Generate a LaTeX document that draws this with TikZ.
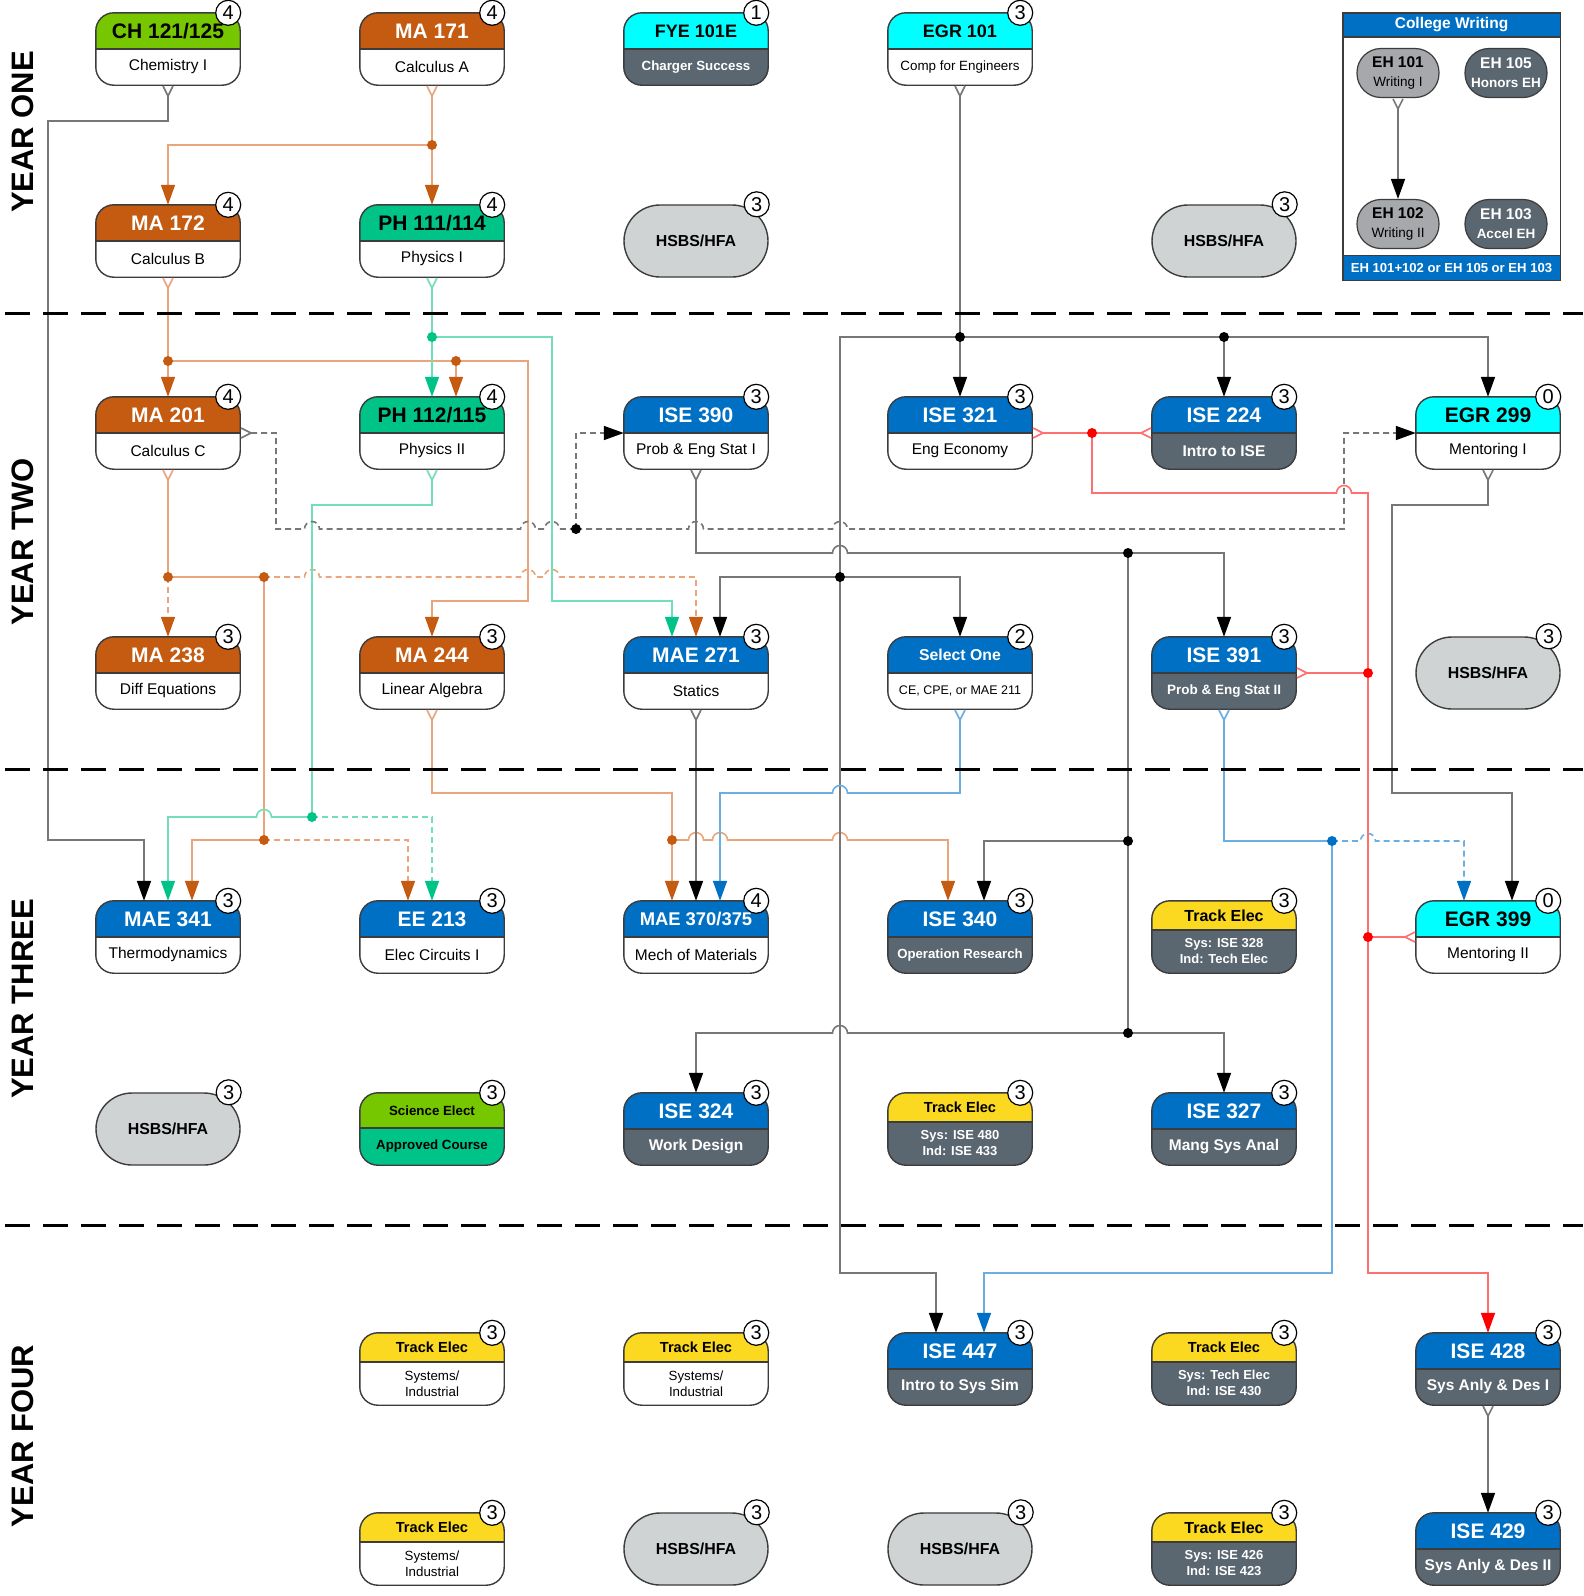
\documentclass[tikz,border=0pt]{standalone}
\usepackage{fontspec}
\setmainfont{Liberation Sans}
\usetikzlibrary{arrows.meta,calc}

\definecolor{maC}{HTML}{C55A11}
\definecolor{maL}{HTML}{EBA57D}
\definecolor{phC}{HTML}{00C487}
\definecolor{phL}{HTML}{73DFBA}
\definecolor{chC}{HTML}{76C600}
\definecolor{cyC}{HTML}{00FFFF}
\definecolor{iseC}{HTML}{0070C5}
\definecolor{iseL}{HTML}{6BAEE2}
\definecolor{trC}{HTML}{FBD920}
\definecolor{dkC}{HTML}{5A6670}
\definecolor{hsC}{HTML}{D0D3D4}
\definecolor{ehC}{HTML}{A6A8AB}
\definecolor{redC}{HTML}{FF0000}
\definecolor{redL}{HTML}{FF6F6F}
\definecolor{grL}{HTML}{777777}
\definecolor{edgeC}{HTML}{3C3C3C}

\newcommand{\fsz}[1]{\fontsize{#1}{16}\selectfont}

% course box: [header height]{name}{x,y}{head style}{head}{body style}{body}{credits}
\newcommand{\course}[8][36]{%
  \node[cbox] (#2) at (#3) {};
  \begin{scope}
    \clip[rounded corners=18pt] (#2.south west) rectangle (#2.north east);
    \fill[#6] (#2.south west) rectangle (#2.north east);
    \fill[#4] (#2.north west) rectangle ([yshift=-#1pt]#2.north east);
  \end{scope}
  \draw[edge] ([yshift=-#1pt]#2.north west) -- ([yshift=-#1pt]#2.north east);
  \draw[edge, rounded corners=18pt] (#2.south west) rectangle (#2.north east);
  \node[txt, #4, fill=none] (#2-h) at ([yshift={-0.5*#1}]#2.north) {#5};
  \node[txt, #6, fill=none] (#2-b) at ([yshift={-0.5*(72+#1)}]#2.north) {#7};
  \node[badge] (#2-n) at ([xshift=-12pt]#2.north east) {#8};
}
\newcommand{\hsbs}[2]{%
  \node[hsbox] (#1) at (#2) {HSBS/HFA};
  \node[badge] (#1-n) at ([xshift=-12pt]#1.north east) {3};
}
% line hops, going right / going left
\newcommand{\hopR}[2]{-- ({#1-7.5},#2) arc[start angle=180,end angle=0,radius=7.5pt]}
\newcommand{\hopL}[2]{-- ({#1+7.5},#2) arc[start angle=0,end angle=180,radius=7.5pt]}

\begin{document}
\begin{tikzpicture}[x=1pt,y=-1pt,
  ln/.style={line width=1.6pt, draw=#1},
  tip/.style={-{Triangle[length=20pt,width=14pt,color=#1]}},
  both/.style={{Straight Barb[reversed,length=10pt,width=10pt]}-{Triangle[length=20pt,width=14pt,color=#1]}},
  tail/.style={{Straight Barb[reversed,length=10pt,width=10pt]}-}]
\tikzstyle{cbox} = [rectangle, minimum width=144pt, minimum height=72pt, inner sep=0pt]
\tikzstyle{edge} = [draw=edgeC, line width=1.4pt]
\tikzstyle{txt} = [inner sep=0pt, align=center]
\tikzstyle{badge} = [circle, draw=black, line width=1.2pt, fill=white, minimum size=25pt, inner sep=0pt, font=\fsz{20}]
\tikzstyle{hsbox} = [rectangle, rounded corners=36pt, minimum width=144pt, minimum height=72pt, inner sep=0pt, fill=hsC, draw=edgeC, line width=1.4pt, font=\bfseries\fsz{15.9}]
\tikzstyle{ehbox} = [rectangle, rounded corners=24pt, minimum width=82pt, minimum height=49pt, inner sep=0pt, draw=edgeC, line width=1.2pt, align=center, font=\fontsize{13.5}{19}\selectfont]
\tikzstyle{hMA} = [fill=maC, text=white, font=\bfseries\fsz{21}]
\tikzstyle{hPH} = [fill=phC, text=black, font=\bfseries\fsz{21}]
\tikzstyle{hCH} = [fill=chC, text=black, font=\bfseries\fsz{21}]
\tikzstyle{hCY} = [fill=cyC, text=black, font=\bfseries\fsz{21}]
\tikzstyle{hISE} = [fill=iseC, text=white, font=\bfseries\fsz{21}]
\tikzstyle{hTR} = [fill=trC, text=black, font=\bfseries\fsz{14.6}]
\tikzstyle{bW} = [fill=white, text=black, font=\fsz{15.5}]
\tikzstyle{bD} = [fill=dkC, text=white, font=\bfseries\fsz{15.5}]
\tikzstyle{yr} = [rotate=90, inner sep=0pt, font=\bfseries\fsz{31}]
\tikzstyle{sep} = [line width=3pt, dash pattern=on 25pt off 13pt]
\tikzstyle{dsh} = [dash pattern=on 6pt off 4pt]

\useasboundingbox (0,0) rectangle (1583,1596);

% year labels
\node[yr] (y1) at (22.5,132) {YEAR ONE};
\node[yr] (y2) at (22.5,542) {YEAR TWO};
\node[yr] (y3) at (22.5,999) {YEAR THREE};
\node[yr] (y4) at (22.5,1436) {YEAR FOUR};

% year one
\course{ch121}{168,49}{hCH}{CH 121/125}{bW}{Chemistry I}{4}
\course{ma171}{432,49}{hMA}{MA 171}{bW}{Calculus A}{4}
\course{fye101}{696,49}{hCY,font=\bfseries\fsz{18}}{FYE 101E}{bD,font=\bfseries\fsz{13.3}}{Charger Success}{1}
\course{egr101}{960,49}{hCY,font=\bfseries\fsz{18}}{EGR 101}{bW,font=\fsz{13.4}}{Comp for Engineers}{3}
\course{ma172}{168,241}{hMA}{MA 172}{bW}{Calculus B}{4}
\course{ph111}{432,241}{hPH}{PH 111/114}{bW}{Physics I}{4}
\hsbs{hs1}{696,241}
\hsbs{hs2}{1224,241}

% college writing
\node[rectangle, minimum width=217pt, minimum height=267pt, inner sep=0pt] (cw) at (1451.5,146.5) {};
\fill[iseC] (cw.north west) rectangle ([yshift=-24pt]cw.north east);
\fill[iseC] ([yshift=25pt]cw.south west) rectangle (cw.south east);
\draw[edge] ([yshift=-24pt]cw.north west) -- ([yshift=-24pt]cw.north east);
\draw[edge] ([yshift=25pt]cw.south west) -- ([yshift=25pt]cw.south east);
\draw[edge] (cw.south west) rectangle (cw.north east);
\node[txt, text=white, font=\bfseries\fsz{15.5}] (cw-t) at ([yshift=-12pt]cw.north) {College Writing};
\node[txt, text=white, font=\bfseries\fsz{13.1}] (cw-b) at ([yshift=12.5pt]cw.south) {EH 101+102 or EH 105 or EH 103};
\node[ehbox, fill=ehC] (eh101) at (1398,73) {{\bfseries\fontsize{15.5}{19}\selectfont EH 101}\\Writing I};
\node[ehbox, fill=dkC, text=white, font=\bfseries\fontsize{13.5}{19}\selectfont] (eh105) at (1506,73) {{\fontsize{15.5}{19}\selectfont EH 105}\\Honors EH};
\node[ehbox, fill=ehC] (eh102) at (1398,224) {{\bfseries\fontsize{15.5}{19}\selectfont EH 102}\\Writing II};
\node[ehbox, fill=dkC, text=white, font=\bfseries\fontsize{13.5}{19}\selectfont] (eh103) at (1506,224) {{\fontsize{15.5}{19}\selectfont EH 103}\\Accel EH};

% year two
\course{ma201}{168,433}{hMA}{MA 201}{bW}{Calculus C}{4}
\course{ph112}{432,433}{hPH}{PH 112/115}{bW}{Physics II}{4}
\course{ise390}{696,433}{hISE}{ISE 390}{bW}{Prob \& Eng Stat I}{3}
\course{ise321}{960,433}{hISE}{ISE 321}{bW}{Eng Economy}{3}
\course{ise224}{1224,433}{hISE}{ISE 224}{bD}{Intro to ISE}{3}
\course{egr299}{1488,433}{hCY}{EGR 299}{bW}{Mentoring I}{0}
\course{ma238}{168,673}{hMA}{MA 238}{bW}{Diff Equations}{3}
\course{ma244}{432,673}{hMA}{MA 244}{bW}{Linear Algebra}{3}
\course{mae271}{696,673}{hISE}{MAE 271}{bW}{Statics}{3}
\course{sel}{960,673}{hISE,font=\bfseries\fsz{15.8}}{Select One}{bW,font=\fsz{12.5}}{CE, CPE, or MAE 211}{2}
\course{ise391}{1224,673}{hISE}{ISE 391}{bD,font=\bfseries\fsz{13.5}}{Prob \& Eng Stat II}{3}
\hsbs{hs3}{1488,673}

% year three
\course{mae341}{168,937}{hISE}{MAE 341}{bW}{Thermodynamics}{3}
\course{ee213}{432,937}{hISE}{EE 213}{bW}{Elec Circuits I}{3}
\course{mae370}{696,937}{hISE,font=\bfseries\fsz{18.4}}{MAE 370/375}{bW}{Mech of Materials}{4}
\course{ise340}{960,937}{hISE}{ISE 340}{bD,font=\bfseries\fsz{13.2}}{Operation Research}{3}
\course[29]{tr1}{1224,937}{hTR,font=\bfseries\fsz{16}}{Track Elec}{bD,font=\bfseries\fsz{13}}{Sys: ISE 328\\Ind: Tech Elec}{3}
\course{egr399}{1488,937}{hCY}{EGR 399}{bW}{Mentoring II}{0}
\hsbs{hs4}{168,1129}
\course[35]{sci}{432,1129}{hCH,font=\bfseries\fsz{13.3}}{Science Elect}{fill=phC,text=black,font=\bfseries\fsz{13.3}}{Approved Course}{3}
\course{ise324}{696,1129}{hISE}{ISE 324}{bD}{Work Design}{3}
\course[29]{tr2}{960,1129}{hTR}{Track Elec}{bD,font=\bfseries\fsz{13}}{Sys: ISE 480\\Ind: ISE 433}{3}
\course{ise327}{1224,1129}{hISE}{ISE 327}{bD}{Mang Sys Anal}{3}

% year four
\course[29]{tr3}{432,1369}{hTR}{Track Elec}{bW,font=\fsz{13.3}}{Systems/\\Industrial}{3}
\course[29]{tr4}{696,1369}{hTR}{Track Elec}{bW,font=\fsz{13.3}}{Systems/\\Industrial}{3}
\course{ise447}{960,1369}{hISE}{ISE 447}{bD}{Intro to Sys Sim}{3}
\course[29]{tr5}{1224,1369}{hTR}{Track Elec}{bD,font=\bfseries\fsz{13}}{Sys: Tech Elec\\Ind: ISE 430}{3}
\course{ise428}{1488,1369}{hISE}{ISE 428}{bD}{Sys Anly \& Des I}{3}
\course[29]{tr6}{432,1549}{hTR}{Track Elec}{bW,font=\fsz{13.3}}{Systems/\\Industrial}{3}
\hsbs{hs5}{696,1549}
\hsbs{hs6}{960,1549}
\course[29]{tr7}{1224,1549}{hTR,font=\bfseries\fsz{16}}{Track Elec}{bD,font=\bfseries\fsz{13}}{Sys: ISE 426\\Ind: ISE 423}{3}
\course{ise429}{1488,1549}{hISE}{ISE 429}{bD}{Sys Anly \& Des II}{3}

% junctions
\coordinate (j1) at (432,145);
\coordinate (j2) at (168,361);
\coordinate (j3) at (456,361);
\coordinate (j4) at (168,577);
\coordinate (j5) at (264,577);
\coordinate (j6) at (264,840);
\coordinate (j7) at (672,840);
\coordinate (j8) at (432,337);
\coordinate (j9) at (312,817);
\coordinate (j10) at (960,337);
\coordinate (j11) at (1224,337);
\coordinate (j12) at (840,577);
\coordinate (j13) at (1128,553);
\coordinate (j14) at (1128,841);
\coordinate (j15) at (1128,1033);
\coordinate (j16) at (576,529);
\coordinate (j17) at (1332,841);
\coordinate (j18) at (1092,433);
\coordinate (j19) at (1368,673);
\coordinate (j20) at (1368,937);

% math prerequisites
\draw[ln=maL, both=maC] (ma171.south) -- (ph111.north);
\draw[ln=maL, tip=maC] (j1) -| (ma172.north);
\draw[ln=maL, both=maC] (ma172.south) -- (ma201.north);
\draw[ln=maL, tip=maC] (j3) -- ([xshift=24pt]ph112.north);
\draw[ln=maL, tip=maC] (j2) -- (528,361) -- (528,601) -| (ma244.north);
\draw[ln=maL, tail] (ma201.south) -- (j4) -- (j5) -- (j6);
\draw[ln=maL, dsh, tip=maC] (j4) -- (ma238.north);
\draw[ln=maL, dsh, tip=maC] (j5) \hopR{312}{577} \hopR{528}{577} \hopR{552}{577} -| (mae271.north);
\draw[ln=maL, tip=maC] (j6) -| ([xshift=24pt]mae341.north);
\draw[ln=maL, dsh, tip=maC] (j6) -| ([xshift=-24pt]ee213.north);
\draw[ln=maL, both=maC] (ma244.south) -- (432,793) -| (j7) -- ([xshift=-24pt]mae370.north);
\draw[ln=maL, tip=maC] (j7) \hopR{696}{840} \hopR{720}{840} \hopR{840}{840} -| ([xshift=-12pt]ise340.north);

% physics prerequisites
\draw[ln=phL, both=phC] (ph111.south) -- (ph112.north);
\draw[ln=phL, tip=phC] (j8) -- (552,337) -- (552,601) -| ([xshift=-24pt]mae271.north);
\draw[ln=phL, tail] (ph112.south) -- (432,505) -| (j9);
\draw[ln=phL, tip=phC] (j9) \hopL{264}{817} -| (mae341.north);
\draw[ln=phL, dsh, tip=phC] (j9) -| (ee213.north);

% engineering prerequisites
\draw[ln=grL, both=black] (ch121.south) -- (168,121) -- (48,121) -- (48,840) -| ([xshift=-24pt]mae341.north);
\draw[ln=grL, both=black] (egr101.south) -- (ise321.north);
\draw[ln=grL, tip=black] (j10) -| (ise224.north);
\draw[ln=grL, tip=black] (j11) -| (egr299.north);
\draw[ln=grL, tip=black] (j10) -- (840,337) -- (840,1273) -| ([xshift=-24pt]ise447.north);
\draw[ln=grL, tip=black] (j12) -| ([xshift=24pt]mae271.north);
\draw[ln=grL, tip=black] (j12) -| (sel.north);
\draw[ln=grL, both=black] (ise390.south) -- (696,553) \hopR{840}{553} -| (ise391.north);
\draw[ln=grL] (j13) -- (j15);
\draw[ln=grL, tip=black] (j14) -| ([xshift=24pt]ise340.north);
\draw[ln=grL, tip=black] (j15) \hopL{840}{1033} -| (ise324.north);
\draw[ln=grL, tip=black] (j15) -| (ise327.north);
\draw[ln=grL, both=black] (mae271.south) -- (mae370.north);
\draw[ln=grL, both=black] (egr299.south) -- (1488,505) -- (1392,505) -- (1392,793) -| ([xshift=24pt]egr399.north);
\draw[ln=grL, both=black] (ise428.south) -- (ise429.north);
\draw[ln=grL, both=black] (eh101.south) -- (eh102.north);
\draw[ln=grL, dsh, tail] (ma201.east) -- (276,433) -- (276,529) \hopR{312}{529} \hopR{528}{529} \hopR{552}{529} -- (j16);
\draw[ln=grL, dsh, tip=black] (j16) |- (ise390.west);
\draw[ln=grL, dsh, tip=black] (j16) \hopR{696}{529} \hopR{840}{529} -- (1344,529) |- (egr299.west);

% ise prerequisites
\draw[ln=iseL, both=iseC] (sel.south) -- (960,793) \hopL{840}{793} -| ([xshift=24pt]mae370.north);
\draw[ln=iseL, both=iseC] (ise391.south) |- (j17) -- (1332,1273) -| ([xshift=24pt]ise447.north);
\draw[ln=iseL, dsh, tip=iseC] (j17) \hopR{1368}{841} -| ([xshift=-24pt]egr399.north);

% capstone prerequisites
\draw[ln=redL, tail] (ise321.east) -- (j18);
\draw[ln=redL, tail] (ise224.west) -- (j18);
\draw[ln=redL, tip=redC] (j18) -- (1092,493) \hopR{1344}{493} -- (1368,493) -- (1368,1273) -| (ise428.north);
\draw[ln=redL, tail] (ise391.east) -- (j19);
\draw[ln=redL, tail] (egr399.west) -- (j20);

\foreach \j/\c in {j1/maC,j2/maC,j3/maC,j4/maC,j5/maC,j6/maC,j7/maC,j8/phC,j9/phC,
  j10/black,j11/black,j12/black,j13/black,j14/black,j15/black,j16/black,
  j17/iseC,j18/redC,j19/redC,j20/redC}
  \fill[\c] (\j) circle (5pt);

% year separators
\draw[sep] (5,313) -- (1583,313);
\draw[sep] (5,769) -- (1583,769);
\draw[sep] (5,1225) -- (1583,1225);
\end{tikzpicture}
\end{document}
